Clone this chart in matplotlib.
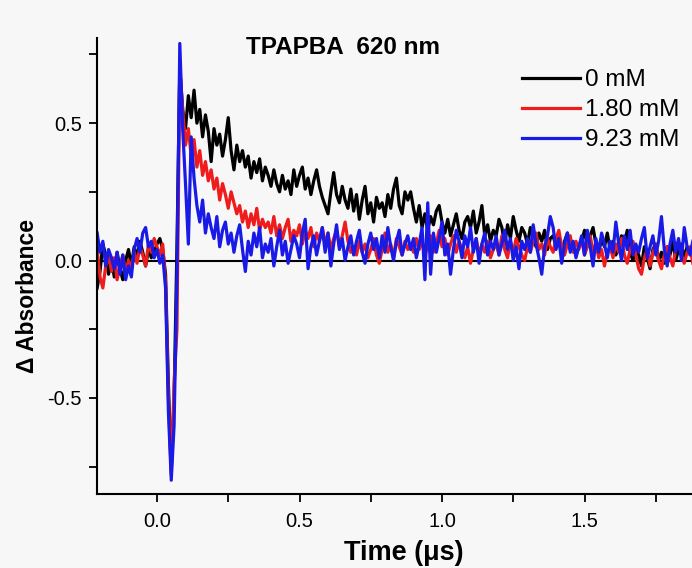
import numpy as np
import matplotlib
matplotlib.use("Agg")
import matplotlib.pyplot as plt
from matplotlib.ticker import MultipleLocator

# time base of the recorded traces (us), one sample every 10 ns
t_start = -0.21
t_step = 0.01

# 0 mM
abs_0mM = [
    -0.10, -0.04, 0.06, 0.02, -0.05, 0.01, -0.06, 0.03, -0.03, -0.07,
    0.00, 0.04, -0.02, 0.05, 0.01, 0.07, 0.03, -0.02, 0.04, 0.01,
    0.03, 0.06, 0.08, 0.04, -0.05, -0.45, -0.76, -0.50, 0.05, 0.70,
    0.55, 0.48, 0.60, 0.52, 0.62, 0.50, 0.55, 0.45, 0.53, 0.47,
    0.36, 0.48, 0.42, 0.46, 0.38, 0.44, 0.52, 0.40, 0.33, 0.42,
    0.36, 0.40, 0.34, 0.38, 0.30, 0.36, 0.32, 0.37, 0.29, 0.34,
    0.31, 0.27, 0.33, 0.28, 0.25, 0.31, 0.26, 0.29, 0.24, 0.33,
    0.27, 0.31, 0.34, 0.26, 0.30, 0.24, 0.29, 0.33, 0.27, 0.23,
    0.20, 0.17, 0.25, 0.32, 0.24, 0.21, 0.27, 0.22, 0.19, 0.26,
    0.18, 0.24, 0.15, 0.22, 0.27, 0.17, 0.21, 0.14, 0.23, 0.19,
    0.21, 0.16, 0.24, 0.19, 0.26, 0.30, 0.20, 0.17, 0.25, 0.22,
    0.25, 0.19, 0.14, 0.20, 0.12, 0.17, 0.11, 0.16, 0.13, 0.18,
    0.20, 0.14, 0.10, 0.15, 0.09, 0.13, 0.17, 0.11, 0.08, 0.14,
    0.16, 0.12, 0.18, 0.10, 0.14, 0.20, 0.09, 0.13, 0.07, 0.11,
    0.09, 0.15, 0.12, 0.06, 0.13, 0.08, 0.16, 0.11, 0.07, 0.12,
    0.10, 0.06, 0.12, 0.08, 0.05, 0.10, 0.07, 0.11, 0.04, 0.08,
    0.09, 0.05, 0.08, 0.03, 0.07, 0.10, 0.04, 0.06, 0.02, 0.05,
    0.07, 0.11, 0.05, 0.09, 0.12, 0.06, 0.03, 0.08, 0.05, 0.10,
    0.04, 0.07, 0.02, 0.05, 0.09, 0.06, 0.11, 0.03, 0.00, 0.04,
    0.02, -0.02, 0.05, 0.01, -0.03, 0.04, 0.06, 0.00, 0.03, -0.01,
    0.05, 0.02, 0.07, 0.00, 0.04, 0.06, 0.01, 0.05, 0.03, 0.04,
]

# 1.80 mM
abs_180mM = [
    0.04, -0.06, -0.10, -0.02, 0.03, -0.04, 0.01, -0.07, -0.02, 0.02,
    -0.05, 0.00, -0.03, 0.03, -0.01, 0.05, 0.02, -0.02, 0.06, 0.03,
    0.08, 0.05, 0.02, 0.06, -0.08, -0.50, -0.78, -0.45, -0.25, 0.70,
    0.55, 0.42, 0.48, 0.38, 0.44, 0.34, 0.40, 0.31, 0.36, 0.29,
    0.33, 0.26, 0.30, 0.22, 0.28, 0.24, 0.19, 0.25, 0.21, 0.17,
    0.20, 0.14, 0.18, 0.12, 0.17, 0.13, 0.19, 0.11, 0.15, 0.12,
    0.14, 0.10, 0.16, 0.09, 0.13, 0.08, 0.12, 0.15, 0.07, 0.11,
    0.09, 0.13, 0.06, 0.11, 0.08, 0.12, 0.05, 0.10, 0.07, 0.12,
    0.06, 0.10, 0.04, 0.08, 0.11, 0.05, 0.09, 0.14, 0.07, 0.03,
    0.05, 0.02, 0.07, 0.03, 0.06, 0.01, 0.04, 0.08, 0.02, -0.01,
    0.04, 0.10, 0.03, 0.06, 0.01, 0.08, 0.05, 0.02, 0.07, 0.04,
    0.06, 0.03, 0.08, 0.04, 0.07, 0.02, 0.05, 0.09, 0.03, 0.06,
    0.11, 0.05, 0.08, 0.02, 0.06, 0.09, 0.03, 0.07, 0.04, 0.01,
    0.05, -0.01, 0.04, 0.08, 0.02, 0.06, 0.03, 0.07, 0.01, 0.04,
    0.06, 0.02, 0.09, 0.04, 0.01, 0.07, 0.03, 0.08, 0.05, 0.02,
    0.00, 0.05, 0.03, 0.07, 0.10, 0.04, 0.06, 0.02, 0.08, 0.05,
    0.03, 0.08, 0.11, 0.05, 0.02, 0.06, 0.09, 0.03, 0.07, 0.04,
    0.08, 0.02, 0.05, 0.09, 0.03, 0.06, 0.01, 0.04, -0.02, 0.03,
    0.05, 0.01, 0.06, 0.03, 0.08, 0.02, -0.01, 0.04, 0.07, 0.02,
    -0.03, -0.05, 0.01, 0.04, -0.02, 0.03, 0.06, 0.00, -0.03, 0.02,
    0.05, 0.01, -0.02, 0.04, 0.07, 0.02, -0.01, 0.03, 0.05, -0.01,
]

# 9.23 mM
abs_923mM = [
    0.10, 0.03, 0.07, -0.02, 0.04, 0.01, -0.03, 0.03, -0.05, 0.02,
    -0.07, -0.02, -0.06, 0.04, 0.08, 0.03, 0.10, 0.12, 0.05, 0.07,
    0.01, 0.04, -0.01, 0.02, -0.10, -0.55, -0.80, -0.60, -0.05, 0.79,
    0.48, 0.28, 0.06, 0.45, 0.30, 0.20, 0.14, 0.22, 0.10, 0.17,
    0.12, 0.08, 0.16, 0.05, 0.11, 0.14, 0.06, 0.10, 0.03, 0.09,
    0.13, 0.04, -0.04, 0.07, 0.02, 0.10, 0.05, 0.12, 0.01, 0.06,
    0.03, 0.08, -0.02, 0.05, 0.11, 0.02, 0.07, -0.01, 0.04, 0.09,
    0.06, 0.01, 0.10, 0.15, -0.03, 0.05, 0.09, 0.02, 0.07, 0.12,
    0.03, 0.10, -0.02, 0.06, 0.13, 0.04, 0.08, 0.00, 0.05, 0.09,
    0.02, 0.07, 0.11, 0.03, -0.01, 0.06, 0.10, 0.04, 0.08, 0.01,
    0.09, 0.03, 0.12, 0.05, 0.00, 0.07, 0.11, 0.02, 0.06, 0.09,
    0.04, 0.08, 0.01, 0.06, 0.12, -0.07, 0.21, -0.05, 0.10, 0.03,
    0.08, 0.14, 0.02, 0.06, -0.05, 0.04, 0.11, 0.07, 0.01, 0.09,
    0.05, 0.12, 0.03, 0.08, -0.01, 0.06, 0.10, 0.02, 0.07, 0.04,
    0.09, 0.02, 0.06, 0.11, 0.04, 0.08, 0.00, 0.05, -0.03, 0.07,
    0.04, 0.08, 0.03, 0.13, 0.06, 0.01, -0.05, 0.05, 0.09, 0.16,
    0.12, 0.04, 0.08, -0.01, 0.06, 0.10, 0.03, 0.07, 0.01, 0.05,
    0.09, 0.02, 0.11, 0.05, -0.02, 0.08, 0.03, 0.10, 0.06, 0.01,
    0.07, 0.03, 0.14, 0.06, 0.00, 0.09, 0.04, 0.11, 0.02, 0.06,
    0.03, 0.08, 0.12, 0.01, 0.05, 0.09, 0.02, 0.07, 0.16, 0.04,
    -0.02, 0.06, 0.11, 0.03, 0.08, 0.00, 0.12, 0.05, 0.02, 0.07,
]

series = [
    ("0 mM", abs_0mM, "#000000"),
    ("1.80 mM", abs_180mM, "#ee1c1c"),
    ("9.23 mM", abs_923mM, "#1a1ae6"),
]

plt.rcParams["font.family"] = "Liberation Sans"

W, H = 692, 568
fig = plt.figure(figsize=(W / 100, H / 100), dpi=100, facecolor="#f7f7f7")

# axes box in pixels: left spine x=97, bottom spine y=494, top y=38, runs off the right edge
left_px, bottom_px, top_px = 97, 494, 38
ax = fig.add_axes([left_px / W, 1 - bottom_px / H, (W - left_px) / W, (bottom_px - top_px) / H])
ax.set_facecolor("none")

px_per_us = 285.0
px_per_abs = 274.7
x0_px, y0_px = 157.0, 260.5
ax.set_xlim((left_px - x0_px) / px_per_us, (W - x0_px) / px_per_us)
ax.set_ylim(-(bottom_px - y0_px) / px_per_abs, (y0_px - top_px) / px_per_abs)

ax.axhline(0, color="black", lw=1.5, zorder=1)

for name, vals, color in series:
    t = t_start + t_step * np.arange(len(vals))
    ax.plot(t, vals, color=color, lw=2.3, label=name, zorder=2)

for side in ("top", "right"):
    ax.spines[side].set_visible(False)
for side in ("left", "bottom"):
    ax.spines[side].set_linewidth(1.5)

ax.xaxis.set_major_locator(MultipleLocator(0.5))
ax.xaxis.set_minor_locator(MultipleLocator(0.25))
ax.yaxis.set_major_locator(MultipleLocator(0.5))
ax.yaxis.set_minor_locator(MultipleLocator(0.25))
ax.tick_params(which="major", direction="out", length=6, width=1.3, labelsize=14.5, pad=5)
ax.tick_params(axis="x", which="major", pad=7)
ax.tick_params(which="minor", direction="out", length=6, width=1.3)
ax.xaxis.set_major_formatter(plt.FuncFormatter(lambda v, p: f"{v:.1f}"))
ax.yaxis.set_major_formatter(plt.FuncFormatter(lambda v, p: f"{v:.1f}"))

fig.text(28 / W, 1 - 296 / H, "\u0394 Absorbance", rotation=90, ha="center", va="center",
         fontsize=16.5, fontweight="bold")
fig.text(404 / W, 1 - 553 / H, "Time (\u03bcs)", ha="center", va="center",
         fontsize=19.5, fontweight="bold")
fig.text(343 / W, 1 - 47 / H, "TPAPBA  620 nm", ha="center", va="center",
         fontsize=17.5, fontweight="bold")

ax.legend(loc="upper left", bbox_to_anchor=(522 / W, 1 - 69 / H),
          bbox_transform=fig.transFigure, frameon=False, fontsize=17.5,
          handlelength=2.4, handletextpad=0.2, labelspacing=0.33,
          borderpad=0, borderaxespad=0)

fig.savefig("out.png", dpi=100, facecolor=fig.get_facecolor())
